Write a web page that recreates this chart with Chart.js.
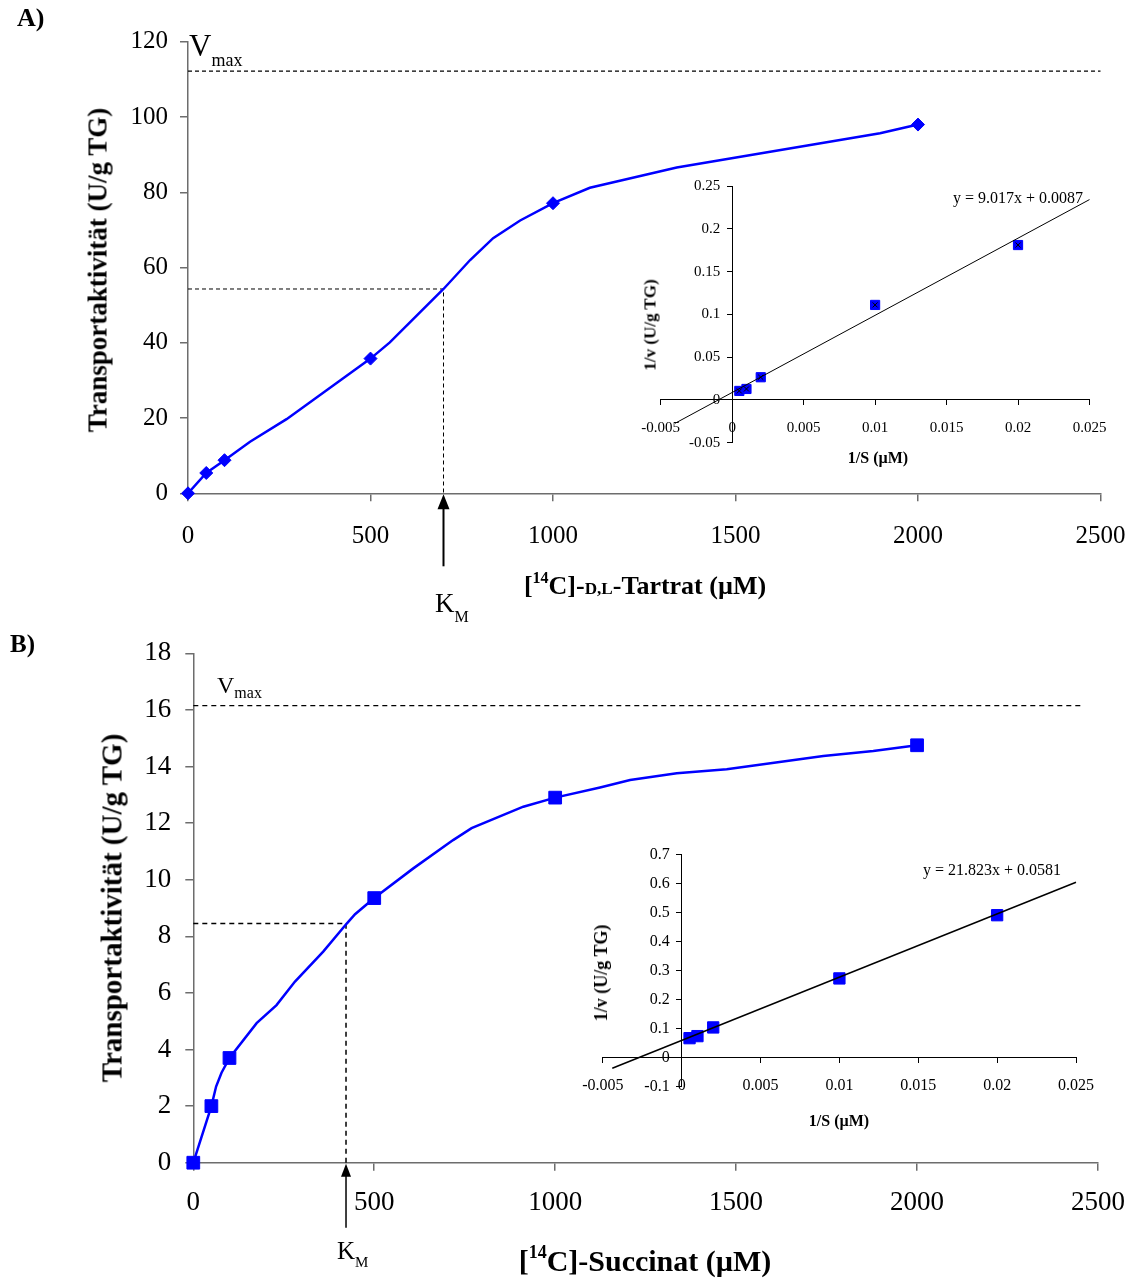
<!DOCTYPE html>
<html>
<head>
<meta charset="utf-8">
<script src="https://cdn.jsdelivr.net/npm/chart.js@4.4.1/dist/chart.umd.min.js"></script>
<style>
  body { margin: 0; background: #fff; }
  #page { position: relative; width: 1135px; height: 1278px; font-family: 'Liberation Serif', 'Times New Roman', serif; color: #000; }
  #page canvas { position: absolute; }
  .lbl { position: absolute; line-height: 1; white-space: nowrap; }
  .b { font-weight: bold; }
  .rot { transform: translate(-50%, -50%) rotate(-90deg); }
  .ctr { transform: translateX(-50%); }
  .lo { line-height: 0; }
</style>
</head>
<body>
<div id="page">
  <canvas id="chartA" width="1135" height="630" style="left:0;top:0"></canvas>
  <canvas id="chartB" width="1135" height="648" style="left:0;top:630px"></canvas>
  <canvas id="insetA" width="530" height="310" style="left:600px;top:170px"></canvas>
  <canvas id="insetB" width="565" height="280" style="left:560px;top:840px"></canvas>

  <!-- panel A labels -->
  <div class="lbl b" style="left:17px;top:5px;font-size:26px">A)</div>
  <div class="lbl" style="left:189px;top:30px;font-size:31px">V<span class="lo" style="font-size:18px;vertical-align:-10px">max</span></div>
  <div class="lbl b rot" style="left:98px;top:270px;font-size:27px">Transportaktivität (U/g TG)</div>
  <div class="lbl b ctr" style="left:645px;top:573px;font-size:26px">[<span class="lo" style="font-size:16px;vertical-align:11px">14</span>C]-<span style="font-size:0.66em">D,L</span>-Tartrat (µM)</div>
  <div class="lbl" style="left:435px;top:590px;font-size:27px">K<span class="lo" style="font-size:16px;vertical-align:-10px">M</span></div>
  <div class="lbl b rot" style="left:650px;top:325px;font-size:17px">1/v (U/g TG)</div>
  <div class="lbl b ctr" style="left:878px;top:450px;font-size:16px">1/S (µM)</div>
  <div class="lbl" id="eqA" style="left:953px;top:190px;font-size:16px"></div>

  <!-- panel B labels -->
  <div class="lbl b" style="left:10px;top:631px;font-size:25px">B)</div>
  <div class="lbl" style="left:217px;top:673px;font-size:24px">V<span class="lo" style="font-size:16px;vertical-align:-5px">max</span></div>
  <div class="lbl b rot" style="left:112px;top:908px;font-size:29px">Transportaktivität (U/g TG)</div>
  <div class="lbl b ctr" style="left:645px;top:1246px;font-size:30px">[<span class="lo" style="font-size:18px;vertical-align:13px">14</span>C]-Succinat (µM)</div>
  <div class="lbl" style="left:337px;top:1238px;font-size:25px">K<span class="lo" style="font-size:15px;vertical-align:-8px">M</span></div>
  <div class="lbl b rot" style="left:601px;top:973px;font-size:18px">1/v (U/g TG)</div>
  <div class="lbl b ctr" style="left:839px;top:1113px;font-size:16px">1/S (µM)</div>
  <div class="lbl" id="eqB" style="left:923px;top:862px;font-size:16px"></div>
</div>

<script>
const serif = "'Liberation Serif', 'Times New Roman', serif";
const blue = '#0000ff';
const axisGrey = '#6d6d6d';

// A) D,L-Tartrat: measured points and the drawn saturation curve
const tartratConc = [0, 50, 100, 500, 1000, 2000];
const tartratRate = [0, 5.4, 8.8, 35.8, 77.1, 98.0];
const tartratCurveConc = [0, 50, 100, 170, 270, 500, 553, 700, 773, 836, 910, 1000, 1101, 1339, 1896, 2000];
const tartratCurveRate = [0, 5.4, 8.8, 13.7, 19.7, 35.8, 40.1, 54.3, 62.0, 67.8, 72.5, 77.1, 81.2, 86.6, 95.7, 98.0];
const tartratVmax = 112.2;
const tartratKm = 700;
const tartratHalfV = 54.3;

// A) Lineweaver-Burk
const tartratInvS = [0.0005, 0.001, 0.002, 0.01, 0.02];
const tartratInvV = [0.0105, 0.0128, 0.0265, 0.111, 0.181];
const tartratSlope = 9.017;
const tartratIntercept = 0.0087;
const tartratFitRange = [-0.004, 0.025];

// B) Succinat
const succConc = [0, 50, 100, 500, 1000, 2000];
const succRate = [0, 2.0, 3.7, 9.35, 12.9, 14.75];
const succCurveConc = [0, 50, 63, 78, 100, 175, 230, 281, 359, 424, 447, 500, 608, 718, 769, 912, 1000, 1124, 1207, 1336, 1474, 1741, 1879, 2000];
const succCurveRate = [0, 2.0, 2.69, 3.18, 3.7, 4.93, 5.57, 6.40, 7.46, 8.45, 8.78, 9.35, 10.4, 11.4, 11.82, 12.58, 12.9, 13.26, 13.52, 13.76, 13.9, 14.37, 14.55, 14.75];
const succVmax = 16.15;
const succKm = 422;
const succHalfV = 8.45;

// B) Lineweaver-Burk
const succInvS = [0.0005, 0.001, 0.002, 0.01, 0.02];
const succInvV = [0.066, 0.073, 0.103, 0.272, 0.49];
const succSlope = 21.823;
const succIntercept = 0.0581;
const succFitRange = [-0.0044, 0.025];

// tick values
const concTicks = [0, 500, 1000, 1500, 2000, 2500];
const tartratRateTicks = [0, 20, 40, 60, 80, 100, 120];
const succRateTicks = [0, 2, 4, 6, 8, 10, 12, 14, 16, 18];
const invSTicks = [-0.005, 0, 0.005, 0.01, 0.015, 0.02, 0.025];
const tartratInvVTicks = [-0.05, 0, 0.05, 0.1, 0.15, 0.2, 0.25];
const succInvVTicks = [-0.1, 0, 0.1, 0.2, 0.3, 0.4, 0.5, 0.6, 0.7];

const pts = (xs, ys) => xs.map((x, i) => ({x: x, y: ys[i]}));
const fixedTicks = vals => scale => { scale.ticks = vals.map(v => ({value: v})); };
const fmt = v => String(Number(Number(v).toFixed(4)));

// arrow pointing up at Km from below the x axis
const kmArrow = {
  id: 'kmArrow',
  afterDraw(chart, args, o) {
    const ctx = chart.ctx;
    const x = chart.scales.x.getPixelForValue(o.value);
    const tip = chart.chartArea.bottom + 1;
    ctx.save();
    ctx.strokeStyle = '#000';
    ctx.fillStyle = '#000';
    ctx.lineWidth = o.width;
    ctx.beginPath();
    ctx.moveTo(x, tip + o.head - 1);
    ctx.lineTo(x, tip + o.length);
    ctx.stroke();
    ctx.beginPath();
    ctx.moveTo(x, tip);
    ctx.lineTo(x - o.headWidth / 2, tip + o.head);
    ctx.lineTo(x + o.headWidth / 2, tip + o.head);
    ctx.closePath();
    ctx.fill();
    ctx.restore();
  }
};

// y tick labels of the insets sit left of the y axis, which crosses at x = 0
const crossedYLabels = {
  id: 'crossedYLabels',
  afterDraw(chart, args, o) {
    const {ctx, scales} = chart;
    const right = scales.x.getPixelForValue(0) - o.gap;
    ctx.save();
    ctx.font = o.size + 'px ' + serif;
    ctx.fillStyle = '#000';
    ctx.textAlign = 'right';
    ctx.textBaseline = 'middle';
    scales.y.ticks.forEach(t => ctx.fillText(fmt(t.value), right, scales.y.getPixelForValue(t.value)));
    ctx.restore();
  }
};

function mainChart(id, o) {
  const dashed = (xs, ys, w) => ({
    type: 'line', data: pts(xs, ys), borderColor: '#000', borderWidth: w,
    borderDash: o.dash, pointRadius: 0, fill: false, clip: false
  });
  return new Chart(document.getElementById(id), {
    type: 'scatter',
    data: {
      datasets: [
        { data: pts(o.conc, o.rate), pointStyle: o.marker, pointRadius: o.radius,
          pointBackgroundColor: blue, pointBorderColor: blue, pointBorderWidth: 1, clip: false },
        { type: 'line', data: pts(o.curveX, o.curveY), borderColor: blue, borderWidth: 2.5,
          pointRadius: 0, fill: false, tension: 0 },
        dashed([0, o.vmaxEnd], [o.vmax, o.vmax], o.vmaxWidth),
        dashed([0, o.km, o.km], [o.half, o.half, 0], o.kmWidth)
      ]
    },
    options: {
      responsive: false,
      animation: false,
      events: [],
      layout: { padding: o.padding },
      plugins: { legend: { display: false }, tooltip: { enabled: false }, kmArrow: o.arrow },
      scales: {
        x: {
          type: 'linear', min: 0, max: 2500,
          border: { color: axisGrey, width: 1.5 },
          grid: { drawOnChartArea: false, tickLength: 8, color: axisGrey, lineWidth: 1.5 },
          ticks: { color: '#000', font: { family: serif, size: o.tickSize }, padding: o.xPad, maxRotation: 0, autoSkip: false, callback: fmt },
          afterBuildTicks: fixedTicks(concTicks),
          afterFit: s => { s.height = o.xHeight; s.paddingLeft = 0; s.paddingRight = 0; }
        },
        y: {
          type: 'linear', min: 0, max: o.yMax,
          border: { color: axisGrey, width: 1.5 },
          grid: { drawOnChartArea: false, tickLength: 8, color: axisGrey, lineWidth: 1.5 },
          ticks: { color: '#000', font: { family: serif, size: o.tickSize }, padding: o.yPad, autoSkip: false, callback: fmt },
          afterBuildTicks: fixedTicks(o.yTicks),
          afterFit: s => { s.width = 70; s.paddingTop = 0; s.paddingBottom = 0; }
        }
      }
    },
    plugins: [kmArrow]
  });
}

function insetChart(id, o) {
  const font = { family: serif, size: o.tickSize };
  const sets = [
    { type: 'line', data: pts(o.fitRange, o.fitRange.map(x => o.slope * x + o.intercept)),
      borderColor: '#000', borderWidth: o.lineWidth, pointRadius: 0, fill: false, clip: false }
  ];
  if (o.cross) {
    sets.push({ data: pts(o.invS, o.invV), pointStyle: 'crossRot', pointRadius: 3.5,
      pointBorderColor: '#000', pointBorderWidth: 1, clip: false });
  }
  sets.push({ data: pts(o.invS, o.invV), pointStyle: 'rect', pointRadius: o.radius,
    pointBackgroundColor: blue, pointBorderColor: blue, pointBorderWidth: 1, clip: false });
  document.getElementById(o.eq).textContent = 'y = ' + o.slope + 'x + ' + o.intercept;
  return new Chart(document.getElementById(id), {
    type: 'scatter',
    data: { datasets: sets },
    options: {
      responsive: false,
      animation: false,
      events: [],
      layout: { padding: o.padding },
      plugins: { legend: { display: false }, tooltip: { enabled: false },
        crossedYLabels: { gap: 12, size: o.tickSize } },
      scales: {
        x: {
          type: 'linear', min: -0.005, max: 0.025, position: { y: 0 },
          border: { color: '#000', width: 1 },
          grid: { drawOnChartArea: false, tickLength: 5, color: '#000' },
          ticks: { color: '#000', font: font, padding: o.xPad, maxRotation: 0, autoSkip: false, callback: fmt },
          afterBuildTicks: fixedTicks(invSTicks),
          afterFit: s => { s.paddingLeft = 0; s.paddingRight = 0; }
        },
        y: {
          type: 'linear', min: o.yTicks[0], max: o.yTicks[o.yTicks.length - 1], position: { x: 0 },
          border: { color: '#000', width: 1 },
          grid: { drawOnChartArea: false, tickLength: 5, color: '#000' },
          ticks: { display: false },
          afterBuildTicks: fixedTicks(o.yTicks),
          afterFit: s => { s.paddingTop = 0; s.paddingBottom = 0; }
        }
      }
    },
    plugins: [crossedYLabels]
  });
}

mainChart('chartA', {
  conc: tartratConc, rate: tartratRate, curveX: tartratCurveConc, curveY: tartratCurveRate,
  marker: 'rectRot', radius: 6.5,
  vmax: tartratVmax, vmaxEnd: 2500, km: tartratKm, half: tartratHalfV,
  dash: [4, 3], vmaxWidth: 1.3, kmWidth: 1,
  yMax: 120, yTicks: tartratRateTicks,
  padding: { left: 118, right: 34.5, top: 41.8, bottom: 0 }, xHeight: 136.7,
  tickSize: 25, xPad: 20, yPad: 12,
  arrow: { value: tartratKm, length: 72, head: 15, headWidth: 12, width: 2 }
});

mainChart('chartB', {
  conc: succConc, rate: succRate, curveX: succCurveConc, curveY: succCurveRate,
  marker: 'rect', radius: 9,
  vmax: succVmax, vmaxEnd: 2460, km: succKm, half: succHalfV,
  dash: [5, 4], vmaxWidth: 1.3, kmWidth: 1.5,
  yMax: 18, yTicks: succRateTicks,
  padding: { left: 123.3, right: 37, top: 23.3, bottom: 0 }, xHeight: 115.3,
  tickSize: 27, xPad: 16, yPad: 14,
  arrow: { value: succKm, length: 64, head: 13, headWidth: 10, width: 1.5 }
});

insetChart('insetA', {
  invS: tartratInvS, invV: tartratInvV, slope: tartratSlope, intercept: tartratIntercept,
  fitRange: tartratFitRange, lineWidth: 1, radius: 6.5, cross: true, eq: 'eqA',
  yTicks: tartratInvVTicks, tickSize: 15, xPad: 14,
  padding: { left: 60.7, right: 40.5, top: 16, bottom: 37.3 }
});

insetChart('insetB', {
  invS: succInvS, invV: succInvV, slope: succSlope, intercept: succIntercept,
  fitRange: succFitRange, lineWidth: 1.5, radius: 8, cross: false, eq: 'eqB',
  yTicks: succInvVTicks, tickSize: 16, xPad: 14,
  padding: { left: 42.8, right: 49, top: 14.3, bottom: 33.7 }
});
</script>
</body>
</html>
